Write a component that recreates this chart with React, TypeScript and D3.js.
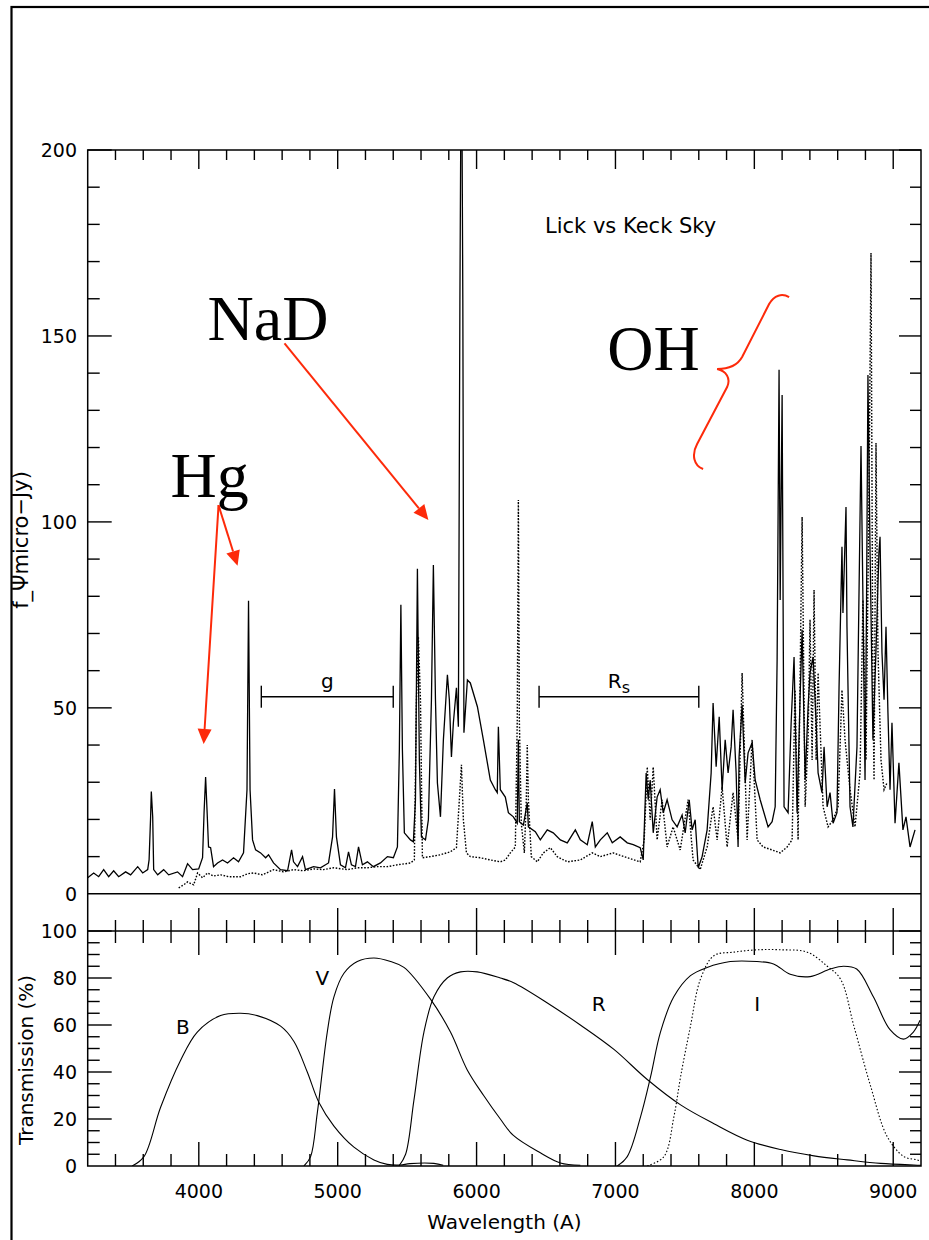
import React from 'react';
import * as d3 from 'd3';

// Lick sky (solid) and Keck sky (dotted), [wavelength A, flux micro-Jy]
const lickSky: number[][] = [
  [3200, 4.3], [3243, 5.6], [3279, 4.6], [3315, 6.5], [3351, 4.6], [3387, 6.2], [3423, 4.6], [3473, 5.9],
  [3509, 5.1], [3560, 7.3], [3596, 5.6], [3632, 6.5], [3642, 9.1], [3653, 20.7], [3658, 27.5], [3668, 20.7],
  [3675, 6.5], [3704, 5.1], [3747, 6.5], [3783, 5.1], [3847, 5.9], [3883, 4.6], [3919, 8.1], [3955, 6.5],
  [3999, 6.7], [4027, 9.7], [4038, 22], [4049, 31.4], [4060, 21.8], [4070, 12.6], [4085, 12.4], [4106, 7.3],
  [4135, 8.3], [4171, 9.1], [4207, 8.3], [4250, 9.7], [4286, 8.6], [4322, 11], [4347, 28], [4358, 78.8],
  [4369, 28], [4387, 14.5], [4409, 11.8], [4445, 11], [4481, 9.7], [4502, 10.5], [4538, 8.3], [4588, 6.5],
  [4639, 6.2], [4668, 11.8], [4682, 8.6], [4711, 7.3], [4747, 10], [4768, 6.5], [4826, 7.3], [4876, 7],
  [4934, 8.3], [4963, 15.3], [4977, 28.2], [4991, 15.3], [5020, 7.8], [5056, 7], [5078, 11.3], [5099, 7.8],
  [5128, 7.3], [5150, 12.6], [5178, 7.8], [5214, 8.6], [5257, 7.3], [5308, 8.3], [5358, 10], [5401, 9.7],
  [5430, 12.6], [5444, 38.7], [5455, 77.7], [5466, 38.7], [5480, 16.4], [5524, 14.5], [5545, 14], [5560, 25.3],
  [5574, 87.4], [5588, 36], [5603, 15.3], [5632, 14.5], [5653, 19.9], [5675, 52.2], [5689, 88.4], [5704, 52.2],
  [5718, 29.8], [5740, 20.7], [5761, 41.4], [5790, 58.9], [5804, 52.2], [5819, 36.8], [5833, 46], [5855, 55.4],
  [5869, 44.9], [5880, 159.7], [5891, 240], [5901, 159.7], [5909, 43.3], [5934, 57.5], [5955, 56.7], [6006, 50.3],
  [6049, 41.4], [6099, 30.6], [6135, 28], [6149, 27.2], [6157, 44.9], [6171, 28], [6207, 26], [6229, 21.8],
  [6265, 20.7], [6293, 19], [6301, 41.4], [6308, 19.4], [6337, 18.5], [6365, 24.5], [6373, 18], [6423, 16.7],
  [6459, 14.5], [6509, 17.2], [6552, 16.4], [6603, 14.5], [6653, 13.7], [6711, 17.2], [6747, 14.5], [6797, 13.2],
  [6833, 19.4], [6855, 12.6], [6891, 14.5], [6941, 16.4], [6977, 13.7], [7034, 15.3], [7085, 13.7], [7128, 13.2],
  [7178, 12.4], [7200, 9.1], [7221, 32.5], [7236, 25.3], [7250, 30.6], [7272, 16.4], [7300, 26], [7322, 28],
  [7344, 21.8], [7372, 25.3], [7408, 19.9], [7444, 18], [7480, 21.2], [7502, 16.4], [7531, 25.3], [7552, 17.2],
  [7574, 19.9], [7596, 7], [7624, 10], [7660, 17.2], [7689, 32.5], [7703, 51.3], [7725, 34.2], [7747, 47.6],
  [7768, 28], [7790, 41.4], [7811, 32.5], [7833, 39.5], [7847, 49.5], [7869, 32.5], [7883, 12.6], [7890, 36.8],
  [7912, 50.8], [7934, 29.8], [7955, 37.9], [7984, 40.6], [8006, 30.6], [8042, 25.3], [8063, 22.6], [8099, 18],
  [8128, 19.4], [8150, 23.4], [8164, 62.9], [8178, 140.9], [8186, 79], [8200, 134.1], [8214, 23.4], [8243, 21.8],
  [8265, 46], [8286, 63.7], [8308, 21.8], [8329, 52.2], [8344, 71], [8366, 30.6], [8387, 50.3], [8401, 59.4],
  [8423, 63.7], [8445, 46], [8459, 32.5], [8487, 27.2], [8502, 39.5], [8524, 23.4], [8545, 27.2], [8567, 19],
  [8595, 21.8], [8610, 55.6], [8631, 93.3], [8638, 75.5], [8660, 104], [8667, 71.8], [8689, 23.4], [8710, 18],
  [8739, 39.5], [8753, 79], [8768, 120.4], [8782, 79], [8797, 30.6], [8808, 79], [8818, 139.5], [8833, 92.5],
  [8854, 41.4], [8876, 65.6], [8897, 91.7], [8905, 96], [8919, 64.8], [8934, 52.2], [8948, 71.8], [8962, 48.7],
  [8977, 28], [8991, 46], [9013, 19], [9041, 35.2], [9070, 17.2], [9092, 20.7], [9121, 12.6], [9157, 17.2],
];

const keckSky: number[][] = [
  [3855, 1.6], [3891, 2.4], [3919, 3.2], [3963, 2.4], [3991, 5.6], [4027, 4.3], [4063, 5.6], [4106, 4.8],
  [4157, 5.1], [4214, 4.6], [4301, 4.6], [4351, 5.4], [4394, 5.6], [4459, 5.1], [4538, 6.5], [4610, 5.9],
  [4682, 6.5], [4754, 6.2], [4826, 6.7], [4898, 6.5], [4970, 7], [5070, 6.5], [5142, 7], [5214, 7],
  [5286, 7.3], [5358, 7.3], [5430, 7.8], [5488, 8.1], [5524, 8.3], [5552, 9.1], [5567, 52.2], [5581, 69.1],
  [5596, 52.2], [5610, 9.7], [5668, 10], [5740, 10.5], [5811, 11.3], [5855, 12.4], [5876, 25.3], [5891, 34.7],
  [5905, 19.9], [5927, 11], [5955, 10], [6027, 9.7], [6099, 9.1], [6171, 8.6], [6207, 9.1], [6243, 11],
  [6279, 12.6], [6293, 46.8], [6301, 105.9], [6308, 46.8], [6322, 19], [6344, 11], [6358, 25.3], [6365, 40],
  [6373, 25.3], [6394, 10], [6437, 8.6], [6481, 11], [6531, 12.4], [6581, 10], [6653, 8.6], [6747, 9.1],
  [6833, 11], [6891, 10], [6984, 11], [7085, 9.7], [7178, 8.6], [7207, 14.5], [7229, 34.1], [7250, 19.9],
  [7272, 34.1], [7300, 14.5], [7336, 25.3], [7372, 12.6], [7415, 18], [7466, 11.8], [7523, 25.3], [7559, 9.1],
  [7610, 6.5], [7660, 12.6], [7703, 23.4], [7732, 14.5], [7768, 28.8], [7804, 12.6], [7847, 27.2], [7883, 14.5],
  [7912, 59.4], [7948, 14.5], [7984, 41.4], [8020, 14.5], [8063, 12.6], [8128, 11.8], [8186, 11], [8236, 12.6],
  [8272, 14.5], [8293, 54.8], [8315, 14.5], [8344, 101.3], [8366, 23.4], [8387, 41.4], [8401, 73.7], [8416, 36],
  [8430, 81.7], [8445, 36], [8459, 59.4], [8495, 23.4], [8531, 18], [8567, 19.9], [8603, 23.4], [8631, 54.8],
  [8653, 41.4], [8689, 28], [8725, 18], [8761, 32.5], [8782, 79], [8804, 36], [8825, 105.9], [8840, 172.3],
  [8854, 52.2], [8862, 30.6], [8876, 121.2], [8890, 65.6], [8912, 36], [8934, 28], [8955, 29.8],
];

// filter transmission curves, [wavelength A, %]
const filterB: number[][] = [
  [3520, 0], [3605, 4], [3725, 25], [3869, 45], [3989, 57], [4157, 64], [4301, 65], [4421, 64], [4589, 59.5],
  [4685, 53], [4781, 40], [4865, 27], [4973, 17], [5117, 8], [5261, 2.6], [5357, 0.7], [5450, 0.4], [5520, 1],
  [5692, 1.1], [5760, 0.3],
];
const filterV: number[][] = [
  [4757, 0], [4805, 4], [4853, 22.5], [4925, 57], [4973, 72], [5045, 82], [5141, 87], [5261, 88.5], [5381, 87],
  [5477, 84.5], [5668, 71], [5812, 57], [5932, 41], [6051, 30], [6171, 20], [6265, 13], [6459, 5.6], [6603, 1.3],
  [6747, 0.3],
];
const filterR: number[][] = [
  [5441, 0], [5489, 5], [5549, 28], [5621, 57], [5693, 72], [5789, 80], [5885, 82.6], [6005, 82.6], [6171, 80],
  [6267, 78], [6507, 69.5], [6747, 60], [6989, 49.6], [7229, 36.8], [7469, 26], [7709, 18], [7949, 11], [8189, 7],
  [8429, 4.3], [8669, 2.6], [8909, 1.1], [9149, 0.4], [9200, 0.3],
];
const filterI: number[][] = [
  [7013, 0], [7085, 4], [7181, 21], [7253, 38], [7324, 57], [7420, 72], [7540, 81], [7660, 84.5], [7827, 87],
  [8019, 87], [8138, 86], [8258, 81.6], [8402, 80.6], [8546, 83.8], [8641, 85], [8737, 83.8], [8857, 72],
  [8977, 58], [9073, 54], [9145, 57], [9193, 62],
];
const filterIKeck: number[][] = [
  [7229, 0], [7349, 4], [7421, 21], [7469, 38], [7540, 59.5], [7612, 79.5], [7709, 89.5], [7853, 91], [8019, 92],
  [8189, 92], [8381, 91], [8525, 85], [8621, 79.5], [8717, 59.5], [8837, 34], [8957, 12.5], [9077, 4], [9173, 2.6],
  [9200, 2],
];

const filterNames = ['B', 'V', 'R', 'I'];
const filterLabelPos = [[3835, 56], [4840, 77], [6830, 66], [8000, 66]]; // [A, %]

const bands = [
  { name: 'g', from: 4450, to: 5400 },
  { name: 'R', sub: 's', from: 6450, to: 7600 },
];

const xTickLabels = [4000, 5000, 6000, 7000, 8000, 9000];
const topYLabels = [0, 50, 100, 150, 200];
const botYLabels = [0, 20, 40, 60, 80, 100];

const X0 = 87.7, X1 = 921, TOP = 150, MID = 931, BOT = 1166;
const RED = '#fd2a0a';
const FONT = 'DejaVu Sans, sans-serif';

const x = d3.scaleLinear().domain([3200, 9200]).range([X0, X1]);
const yTop = d3.scaleLinear().domain([-10, 200]).range([MID, TOP]);
const yBot = d3.scaleLinear().domain([0, 100]).range([BOT, MID]);

const specLine = d3.line<number[]>().x(d => x(d[0])).y(d => yTop(d[1]));
const filtLine = d3.line<number[]>().x(d => x(d[0])).y(d => yBot(d[1])).curve(d3.curveCatmullRom.alpha(0.5));

function Arrow({ from, to }: { from: number[]; to: number[] }) {
  const [x1, y1] = [x(from[0]), yTop(from[1])];
  const [x2, y2] = [x(to[0]), yTop(to[1])];
  const a = Math.atan2(y2 - y1, x2 - x1);
  const L = 15, Wd = 7;
  const bx = x2 - L * Math.cos(a), by = y2 - L * Math.sin(a);
  const p1 = [bx + Wd * Math.sin(a), by - Wd * Math.cos(a)];
  const p2 = [bx - Wd * Math.sin(a), by + Wd * Math.cos(a)];
  return (
    <g>
      <line x1={x1} y1={y1} x2={bx} y2={by} stroke={RED} strokeWidth={2} />
      <polygon points={`${x2},${y2} ${p1[0]},${p1[1]} ${p2[0]},${p2[1]}`} fill={RED} />
    </g>
  );
}

export default function App() {
  const xMinor = d3.range(3400, 9200, 200);
  const isMajorX = (v: number) => v % 1000 === 0;
  const topYMinor = d3.range(10, 201, 10);
  const botYMinor = d3.range(5, 101, 5);

  const tick = (key: string, x1: number, y1: number, x2: number, y2: number) => (
    <line key={key} x1={x1} y1={y1} x2={x2} y2={y2} stroke="#000" strokeWidth={1.4} />
  );

  // OH brace, anchored at its tip
  const tx = x(7732), ty = yTop(141.1);
  const brace = `M${tx + 72},${ty - 72} C${tx + 65},${ty - 76} ${tx + 57},${ty - 74} ${tx + 52},${ty - 65}
    L${tx + 25},${ty - 12} C${tx + 20},${ty - 3} ${tx + 11},${ty} ${tx},${ty}
    C${tx + 9},${ty + 2} ${tx + 14},${ty + 9} ${tx + 10},${ty + 18}
    L${tx - 20},${ty + 75} C${tx - 26},${ty + 86} ${tx - 23},${ty + 97} ${tx - 14},${ty + 100}`;

  return (
    <svg width={929} height={1240} style={{ position: 'fixed', left: 0, top: 0, background: '#fff' }}>
      <rect x={0} y={0} width={929} height={1240} fill="#fff" />
      <rect x={11.5} y={7} width={960} height={1280} fill="none" stroke="#000" strokeWidth={2.2} />

      <defs>
        <clipPath id="topClip">
          <rect x={X0} y={TOP} width={X1 - X0} height={MID - TOP} />
        </clipPath>
        <clipPath id="botClip">
          <rect x={X0} y={MID} width={X1 - X0} height={BOT - MID} />
        </clipPath>
      </defs>

      {/* spectra */}
      <g clipPath="url(#topClip)">
        <path d={specLine(keckSky) || ''} fill="none" stroke="#000" strokeWidth={1.4} strokeDasharray="1.6,1.6" />
        <path d={specLine(lickSky) || ''} fill="none" stroke="#000" strokeWidth={1.3} />
      </g>
      <line x1={X0} x2={X1} y1={yTop(0)} y2={yTop(0)} stroke="#000" strokeWidth={1.4} />

      {/* filters */}
      <g clipPath="url(#botClip)" fill="none" stroke="#000" strokeWidth={1.1}>
        <path d={filtLine(filterB) || ''} />
        <path d={filtLine(filterV) || ''} />
        <path d={filtLine(filterR) || ''} />
        <path d={filtLine(filterI) || ''} />
        <path d={filtLine(filterIKeck) || ''} strokeDasharray="1.5,2" />
      </g>

      {/* frames */}
      <rect x={X0} y={TOP} width={X1 - X0} height={BOT - TOP} fill="none" stroke="#000" strokeWidth={1.5} />
      <line x1={X0} x2={X1} y1={MID} y2={MID} stroke="#000" strokeWidth={1.5} />

      {/* x ticks */}
      {xMinor.map(v => {
        const px = x(v), m = isMajorX(v);
        return (
          <g key={'xt' + v}>
            {tick('a', px, TOP, px, TOP + (m ? 19 : 10))}
            {tick('b', px, MID, px, MID - (m ? 23 : 11))}
            {tick('c', px, MID, px, MID + (m ? 24 : 12))}
            {tick('d', px, BOT, px, BOT - (m ? 24 : 12))}
          </g>
        );
      })}

      {/* y ticks */}
      {topYMinor.map(v => {
        const py = yTop(v), m = v % 50 === 0;
        return (
          <g key={'yt' + v}>
            {tick('a', X0, py, X0 + (m ? 24 : 12), py)}
            {tick('b', X1, py, X1 - (m ? 22 : 11), py)}
          </g>
        );
      })}
      {botYMinor.map(v => {
        const py = yBot(v), m = v % 20 === 0;
        return (
          <g key={'yb' + v}>
            {tick('a', X0, py, X0 + (m ? 24 : 12), py)}
            {tick('b', X1, py, X1 - (m ? 22 : 11), py)}
          </g>
        );
      })}

      {/* tick labels */}
      <g fontFamily={FONT} fontSize={19} fill="#000">
        {topYLabels.map(v => (
          <text key={'lt' + v} x={77} y={yTop(v)} dy="0.36em" textAnchor="end">{v}</text>
        ))}
        {botYLabels.map(v => (
          <text key={'lb' + v} x={77} y={yBot(v)} dy="0.36em" textAnchor="end">{v}</text>
        ))}
        {xTickLabels.map(v => (
          <text key={'lx' + v} x={x(v)} y={1198} textAnchor="middle">{v}</text>
        ))}
      </g>

      {/* axis titles */}
      <text x={(X0 + X1) / 2} y={1229} textAnchor="middle" fontFamily={FONT} fontSize={20}>Wavelength (A)</text>
      <text transform="translate(33,1060) rotate(-90)" textAnchor="middle" fontFamily={FONT} fontSize={20}>Transmission (%)</text>
      <text transform="translate(28,540) rotate(-90)" textAnchor="middle" fontFamily={FONT} fontSize={21}>f_Ψmicro−Jy)</text>
      <text x={545} y={233} fontFamily={FONT} fontSize={21}>Lick vs Keck Sky</text>

      {/* bands */}
      {bands.map(b => {
        const x1 = x(b.from), x2 = x(b.to), py = yTop(53);
        return (
          <g key={b.name} stroke="#000" strokeWidth={1.4}>
            <line x1={x1} x2={x2} y1={py} y2={py} />
            <line x1={x1} x2={x1} y1={py - 11} y2={py + 11} />
            <line x1={x2} x2={x2} y1={py - 11} y2={py + 11} />
            <text x={(x1 + x2) / 2} y={py - 9} textAnchor="middle" fontFamily={FONT} fontSize={20} stroke="none" fill="#000">
              {b.name}
              {b.sub && <tspan fontSize={16} dy={5}>{b.sub}</tspan>}
            </text>
          </g>
        );
      })}

      {/* filter labels */}
      {filterNames.map((n, i) => (
        <text key={n} x={x(filterLabelPos[i][0])} y={yBot(filterLabelPos[i][1])} fontFamily={FONT} fontSize={20}>{n}</text>
      ))}

      {/* annotations */}
      <g fontFamily="Liberation Serif, Times New Roman, serif" fontSize={64} fill="#000">
        <text x={x(4063)} y={yTop(148.9)}>NaD</text>
        <text x={x(6941)} y={yTop(140.9)}>OH</text>
        <text x={x(3797)} y={yTop(106.7)}>Hg</text>
      </g>
      <Arrow from={[4617, 148]} to={[5653, 100.5]} />
      <Arrow from={[4142, 104.5]} to={[4279, 88.2]} />
      <Arrow from={[4142, 104.5]} to={[4035, 40.3]} />
      <path d={brace} fill="none" stroke={RED} strokeWidth={2} />
    </svg>
  );
}
